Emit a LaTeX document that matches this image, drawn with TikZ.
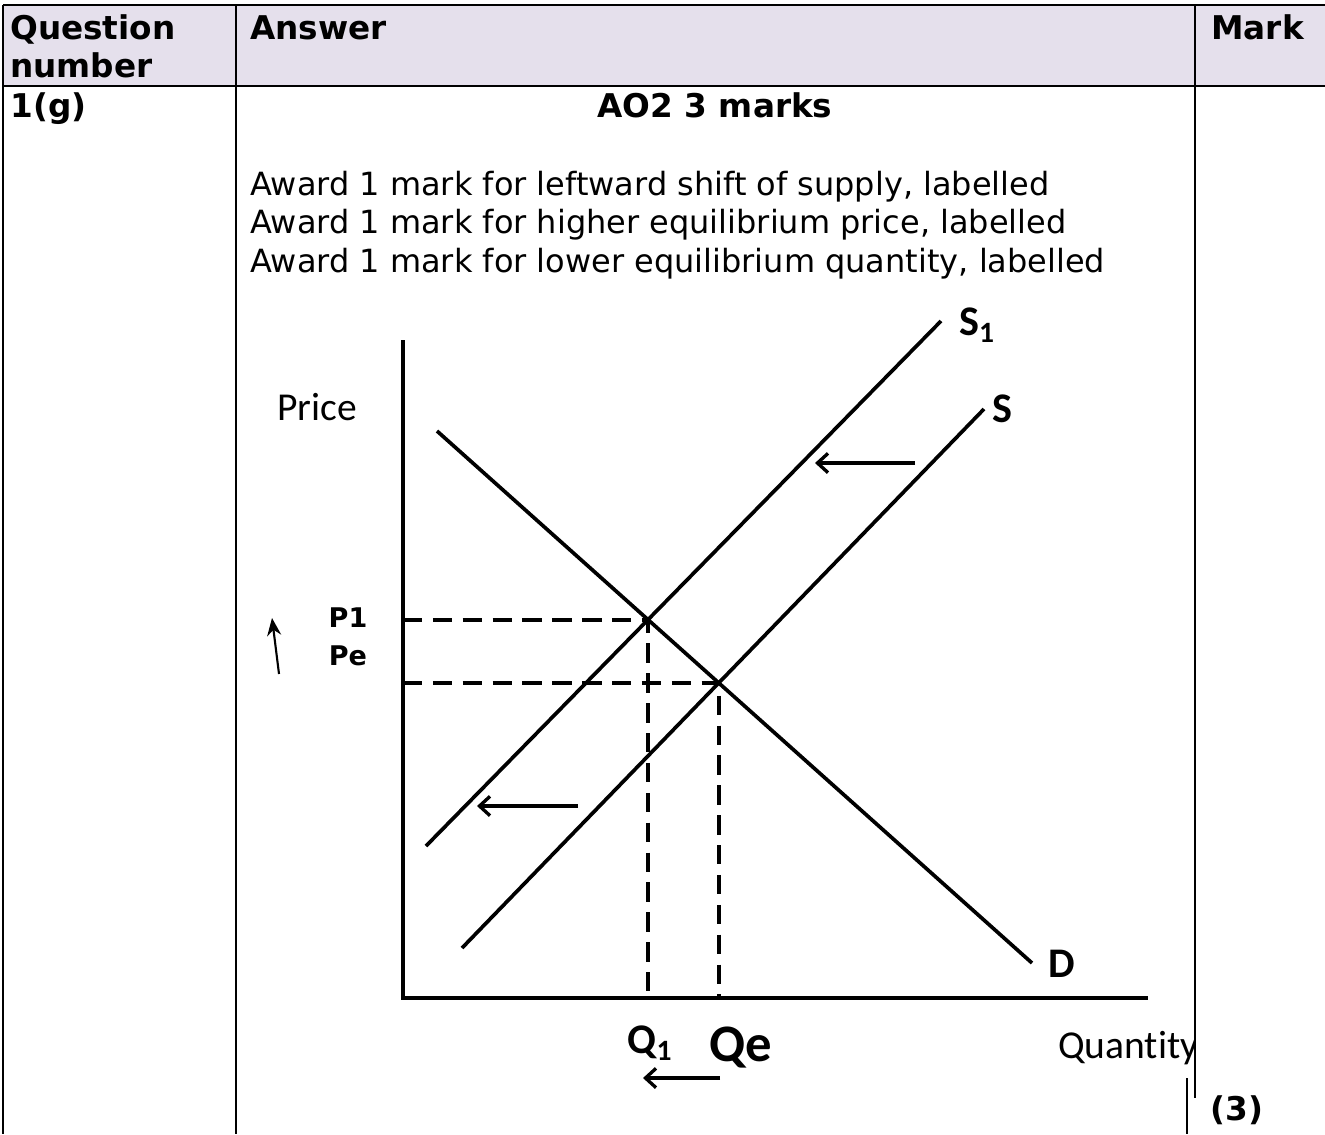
\documentclass[tikz,border=0pt]{standalone}
\usepackage{fontspec}
\setmainfont{DejaVu Sans}
\newfontfamily\calfont[Ligatures=NoCommon]{Carlito}
\usetikzlibrary{arrows.meta,intersections}
\definecolor{headfill}{RGB}{229,224,236}

\begin{document}
\begin{tikzpicture}[x=0.02cm,y=-0.02cm,
  rule/.style={line width=1.1pt},
  curve/.style={line width=2.1pt},
  axis/.style={line width=2.4pt},
  guide/.style={line width=2.3pt,dash pattern=on 11pt off 6pt},
  shiftarrow/.style={line width=1.9pt,-{Straight Barb[length=6pt,width=11pt]}},
  head/.style={inner sep=0pt,anchor=base west,font=\bfseries\fontsize{18.6}{22}\selectfont},
  body/.style={inner sep=0pt,anchor=base west,font=\fontsize{18.2}{22}\selectfont},
  axislab/.style={font=\calfont\fontsize{22.5}{26}\selectfont},
  curvelab/.style={font=\calfont\bfseries\fontsize{24}{28}\selectfont},
  pricelab/.style={font=\bfseries\fontsize{15.4}{18}\selectfont}]
\useasboundingbox (0,0) rectangle (1325,1134);

% table
\fill[headfill] (3,5) rectangle (1325,86);
\draw[rule] (3,5) -- (1325,5);
\draw[rule] (3,86) -- (1325,86);
\draw[rule] (3,5) -- (3,1134);
\draw[rule] (236,5) -- (236,1134);
\draw[rule] (1195,5) -- (1195,1098);
\draw[line width=1.6pt] (1187,1078) -- (1187,1134);

\node[head] (qnum1) at (10,39) {Question};
\node[head] (qnum2) at (10,77) {number};
\node[head] (ans) at (250,39) {Answer};
\node[head] (mark) at (1211,39) {Mark};
\node[head] (qid) at (10,117) {1(g)};
\node[head,anchor=base] (ao) at (715,117) {AO2 3 marks};
\node[body] (aw1) at (250,195) {Award 1 mark for leftward shift of supply, labelled};
\node[body] (aw2) at (250,233) {Award 1 mark for higher equilibrium price, labelled};
\node[body] (aw3) at (250,272) {Award 1 mark for lower equilibrium quantity, labelled};
\node[head] (marks) at (1210,1120) {(3)};

% axes
\coordinate (O) at (403,998);
\coordinate (ytop) at (403,340);
\coordinate (xend) at (1148,998);
\draw[axis] (ytop) -- (O) -- (xend);

% demand and supply
\coordinate (d0) at (437,431);
\coordinate (d1) at (1032,963);
\coordinate (s0) at (462,948);
\coordinate (s1) at (984,409);
\coordinate (t0) at (426,846);
\coordinate (t1) at (941,321);
\draw[curve,name path=dem] (d0) -- (d1);
\draw[curve,name path=sup] (s0) -- (s1);
\draw[curve,name path=supnew] (t0) -- (t1);
\path[name intersections={of=dem and supnew,by=Enew}];
\path[name intersections={of=dem and sup,by=Eold}];
\draw[guide] (O |- Enew) -- (Enew) -- (Enew |- O);
\draw[guide] (O |- Eold) -- (Eold) -- (Eold |- O);

\node[curvelab] (lblS1) at (977,325) {S\textsubscript{1}};
\node[curvelab] (lblS) at (1002,409) {S};
\node[curvelab] (lblD) at (1062,964) {D};
\node[axislab] (price) at (317,407) {Price};
\begin{scope}
\clip (1000,1000) rectangle (1195,1100);
\node[axislab,anchor=west] (qty) at (1052,1048) {Quantity};
\end{scope}
\node[curvelab] (q1) at (650,1043) {Q\textsubscript{1}};
\node[font=\calfont\bfseries\fontsize{30}{34}\selectfont] (qe) at (741,1048) {Qe};
\node[pricelab] (p1) at (348,618) {P1};
\node[pricelab] (pe) at (348,656) {Pe};

% shift arrows
\coordinate (a1s) at (915,463);
\coordinate (a1e) at (815,463);
\coordinate (a2s) at (578,806);
\coordinate (a2e) at (477,806);
\coordinate (a3s) at (720,1078);
\coordinate (a3e) at (643,1078);
\coordinate (a4s) at (279,674);
\coordinate (a4e) at (272,618);
\draw[shiftarrow] (a1s) -- (a1e);
\draw[shiftarrow] (a2s) -- (a2e);
\draw[shiftarrow] (a3s) -- (a3e);
\draw[line width=1.2pt,-{Stealth[length=10pt,width=8pt]}] (a4s) -- (a4e);
\end{tikzpicture}
\end{document}
